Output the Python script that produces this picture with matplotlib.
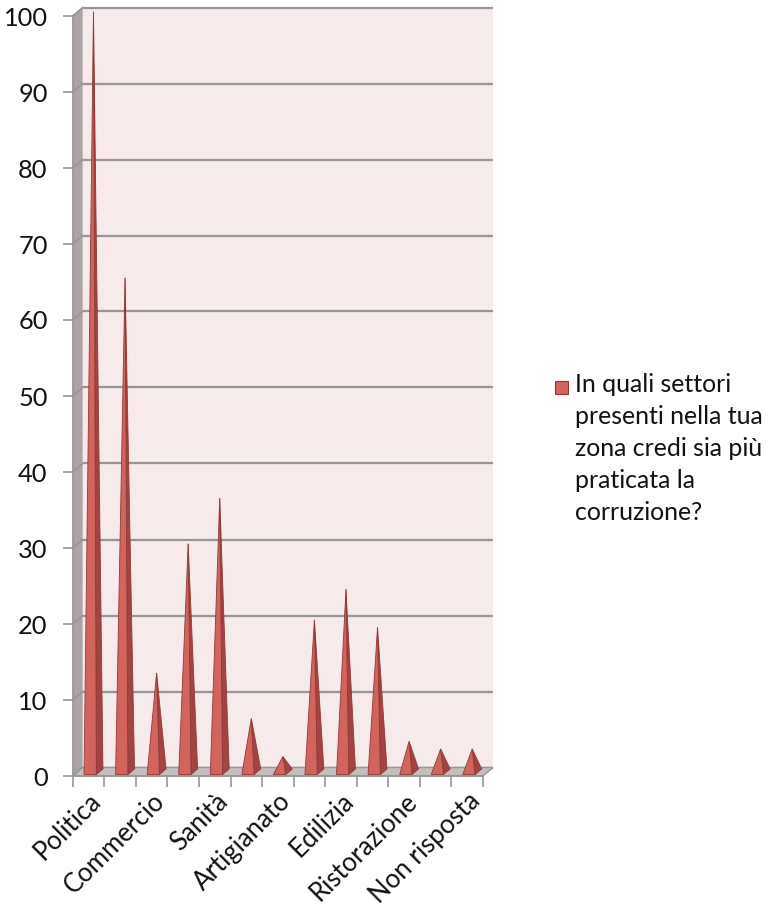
import matplotlib
matplotlib.use("Agg")
import matplotlib.pyplot as plt
from matplotlib.patches import Polygon, Rectangle

plt.rcParams['font.family'] = ['Lato', 'DejaVu Sans']

# Survey answers: one count per sector (only every other sector is labelled on the axis)
tick_labels = ["Politica", "", "Commercio", "", "Sanità", "", "Artigianato", "",
               "Edilizia", "", "Ristorazione", "", "Non risposta"]
values = [100, 65, 13, 30, 36, 7, 2, 20, 24, 19, 4, 3, 3]
series_name = "In quali settori\npresenti nella tua\nzona credi sia più\npraticata la\ncorruzione?"
y_ticks = list(range(0, 101, 10))

W, H = 768, 910
fig = plt.figure(figsize=(W / 100, H / 100), dpi=100)

# front rectangle of the 3D box, in pixels
x0_px, x1_px, y0_px, y1_px = 72.7, 483.0, 776.0, 16.0
ax = fig.add_axes([x0_px / W, 1 - y0_px / H, (x1_px - x0_px) / W, (y0_px - y1_px) / H])
n = len(values)
ax.set_xlim(-0.5, n - 0.5)
ax.set_ylim(0, 100)

# depth offset of the box (back wall relative to the front plane), in data units
px_per_cat = (x1_px - x0_px) / n
px_per_unit = (y0_px - y1_px) / 100
dx = 10.0 / px_per_cat
dy = 8.5 / px_per_unit

wall_col = "#f6eaea"
side_wall_col = "#aca4a4"
floor_col = "#c6bebe"
grid_col = "#959595"
front_col = "#d3645c"
side_col = "#a4433f"
edge_col = "#8e3834"

xl, xr = -0.5, n - 0.5

# back wall
ax.add_patch(Polygon([(xl + dx, dy), (xr + dx, dy), (xr + dx, 100 + dy), (xl + dx, 100 + dy)],
                     closed=True, facecolor=wall_col, edgecolor="none", zorder=1, clip_on=False))
# left wall
ax.add_patch(Polygon([(xl, 0), (xl + dx, dy), (xl + dx, 100 + dy), (xl, 100)],
                     closed=True, facecolor=side_wall_col, edgecolor="none", zorder=2, clip_on=False))
# gridlines on back wall and left wall
for v in y_ticks:
    ax.plot([xl + dx, xr + dx], [v + dy, v + dy], color=grid_col, lw=1.6, zorder=1.5,
            clip_on=False, solid_capstyle="butt")
    ax.plot([xl, xl + dx], [v, v + dy], color=grid_col, lw=1.2, zorder=2.5, clip_on=False)
# floor
ax.add_patch(Polygon([(xl, 0), (xr, 0), (xr + dx, dy), (xl + dx, dy)],
                     closed=True, facecolor=floor_col, edgecolor=grid_col, lw=1.0,
                     zorder=3, clip_on=False))

# pyramids
w = 0.39
zf, zb = 0.17, 0.83
for i, v in enumerate(values):
    apex = (i + 0.5 * dx, v + 0.5 * dy)
    fl = (i - w / 2 + zf * dx, zf * dy)
    fr = (i + w / 2 + zf * dx, zf * dy)
    br = (i + w / 2 + zb * dx, zb * dy)
    ax.add_patch(Polygon([fr, br, apex], closed=True, facecolor=side_col,
                         edgecolor=edge_col, lw=0.6, zorder=4 + i * 0.01, clip_on=False))
    ax.add_patch(Polygon([fl, fr, apex], closed=True, facecolor=front_col,
                         edgecolor=edge_col, lw=0.6, zorder=4.005 + i * 0.01, clip_on=False))

# axes styling
for s in ("top", "right"):
    ax.spines[s].set_visible(False)
for s in ("left", "bottom"):
    ax.spines[s].set_color(grid_col)
    ax.spines[s].set_linewidth(1.2)
    ax.spines[s].set_zorder(3.5)
ax.patch.set_visible(False)

ax.set_yticks(y_ticks)
ax.set_yticklabels([str(t) for t in y_ticks], fontsize=18.3, color="#111111")
ax.tick_params(axis="y", length=7, width=1.2, color=grid_col, pad=11)

ax.set_xticks(range(n))
ax.set_xticklabels(tick_labels, rotation=45, ha="right", va="top",
                   rotation_mode="anchor", fontsize=18.5, color="#111111")
ax.tick_params(axis="x", length=0, pad=9)
ax.set_xticks([k - 0.5 for k in range(n + 1)], minor=True)
ax.tick_params(axis="x", which="minor", length=8, width=1.2, color=grid_col)

# legend
fig.patches.append(Rectangle((555 / W, 1 - 394 / H), 13 / W, 13 / H, transform=fig.transFigure,
                             facecolor=front_col, edgecolor=edge_col, lw=0.8))
fig.text(575 / W, 1 - 373 / H, series_name, ha="left", va="top", fontsize=17.9,
         linespacing=1.48, color="#111111")

fig.savefig("out.png", dpi=100, facecolor="white")
